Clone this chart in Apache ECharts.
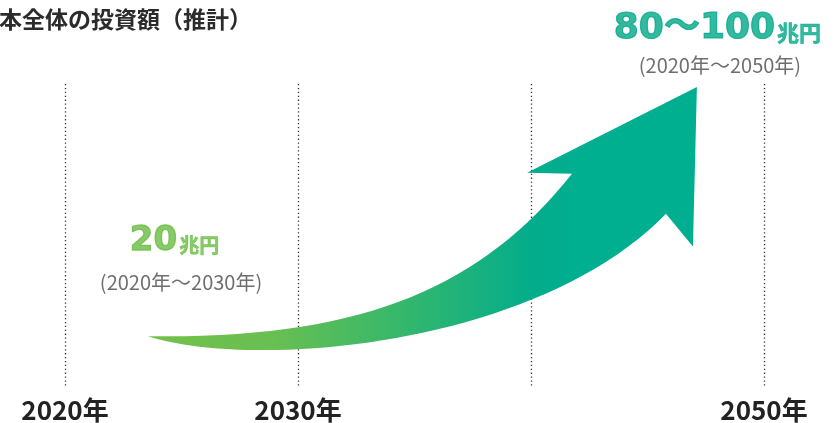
<!DOCTYPE html>
<html><head><meta charset="utf-8">
<script src="https://cdn.jsdelivr.net/npm/echarts@6/dist/echarts.min.js"></script>
<style>html,body{margin:0;padding:0;background:#fff}#c{width:838px;height:423px}</style>
</head><body><div id="c"></div>
<script>
// Axis ticks / categories
const years = [2020, 2030, 2040, 2050];
const yearLabels = {2020: '2020年', 2030: '2030年', 2040: '', 2050: '2050年'};
// Investment estimates (兆円)
const amountLabels = ['20', '80〜100'];
const periodLabels = ['(2020年〜2030年)', '(2020年〜2050年)'];
const amountAnchors = [[2024.7, 48.3], [2048.0, 118.6]];     // [year, index]
const periodAnchors = [[2024.98, 34.5], [2048.11, 106.25]];  // [year, index]
// Arrow outline in data units [year, index]
const arrowTail = [2023.56, 16.78];
const arrowTopCurve = [[2032.66, 15.79], [2037.81, 32.24], [2041.76, 70.39]];
const arrowHead = [[2039.83, 70.7], [2047.12, 99.0], [2046.95, 46.4], [2045.79, 57.2]];
const arrowBottomCurve = [[2040.39, 14.14], [2028.37, 5.26], [2023.56, 16.78]];

const chart = echarts.init(document.getElementById('c'));
const cjk = '"Noto Sans CJK JP", "Noto Sans", sans-serif';
const num = '"DejaVu Sans", "Noto Sans CJK JP", sans-serif';
const green = '#6abd45', teal = '#00a887';

chart.setOption({
  animation: false,
  title: {
    text: '本全体の投資額（推計）', left: -1, top: 8, padding: 0,
    textStyle: {fontFamily: cjk, fontSize: 23, fontWeight: 'bold', color: '#2b2b2b'}
  },
  grid: {left: 65, right: 74, top: 84, bottom: 35},
  xAxis: {
    type: 'value', min: 2020, max: 2050, interval: 10,
    axisLine: {show: false}, axisTick: {show: false},
    axisLabel: {
      formatter: v => yearLabels[v] || '', margin: 10,
      fontFamily: cjk, fontSize: 26, fontWeight: 'bold', color: '#222'
    },
    splitLine: {show: true, lineStyle: {color: '#333', width: 1.3, type: [1.3, 2.6]}}
  },
  yAxis: {type: 'value', min: 0, max: 100, show: false, splitLine: {show: false}},
  series: [
    {
      type: 'custom',
      silent: true,
      data: [[0]],
      clip: false,
      renderItem: function (params, api) {
        const c = p => api.coord(p);
        const t = c(arrowTail);
        const tc = arrowTopCurve.map(c);
        const h = arrowHead.map(c);
        const bc = arrowBottomCurve.map(c);
        const path = `M${t[0]},${t[1]} C${tc[0][0]},${tc[0][1]} ${tc[1][0]},${tc[1][1]} ${tc[2][0]},${tc[2][1]} ` +
          `L${h[0][0]},${h[0][1]} L${h[1][0]},${h[1][1]} L${h[2][0]},${h[2][1]} L${h[3][0]},${h[3][1]} ` +
          `C${bc[0][0]},${bc[0][1]} ${bc[1][0]},${bc[1][1]} ${bc[2][0]},${bc[2][1]} Z`;
        const x0 = t[0], x1 = tc[2][0];
        return {
          type: 'path',
          shape: {pathData: path},
          style: {
            fill: new echarts.graphic.LinearGradient(x0, 0, x1, 0, [
              {offset: 0, color: '#74c14a'},
              {offset: 0.3, color: '#68bf52'},
              {offset: 0.6, color: '#35b76c'},
              {offset: 0.9, color: '#04ad8b'},
              {offset: 1, color: '#00ae90'}
            ], true)
          }
        };
      }
    },
    {
      type: 'scatter',
      symbolSize: 0,
      silent: true,
      clip: false,
      data: amountAnchors,
      label: {
        show: true, position: 'inside',
        formatter: p => p.dataIndex === 0
          ? `{a0|${amountLabels[0]}}{b0|兆円}`
          : `{a1|${amountLabels[1]}}{b1|兆円}`,
        rich: {
          a0: {fontFamily: num, fontSize: 34, fontWeight: 'bold', color: green, textBorderColor: green, textBorderWidth: 1.3, lineHeight: 36, verticalAlign: 'bottom'},
          b0: {fontFamily: cjk, fontSize: 20, fontWeight: 'bold', color: green, textBorderColor: green, textBorderWidth: 0.6, lineHeight: 23, verticalAlign: 'bottom', padding: [0, 0, 3, 2]},
          a1: {fontFamily: num, fontSize: 36, fontWeight: 'bold', color: teal, textBorderColor: teal, textBorderWidth: 1.2, lineHeight: 38, verticalAlign: 'bottom'},
          b1: {fontFamily: cjk, fontSize: 22, fontWeight: 'bold', color: teal, textBorderColor: teal, textBorderWidth: 0.6, lineHeight: 24, verticalAlign: 'bottom', padding: [0, 0, 3, 2]}
        }
      }
    },
    {
      type: 'scatter',
      symbolSize: 0,
      silent: true,
      clip: false,
      data: periodAnchors,
      label: {
        show: true, position: 'inside',
        formatter: p => periodLabels[p.dataIndex],
        fontFamily: cjk, fontSize: 20, color: '#4a4a4a'
      }
    }
  ]
});
</script></body></html>
